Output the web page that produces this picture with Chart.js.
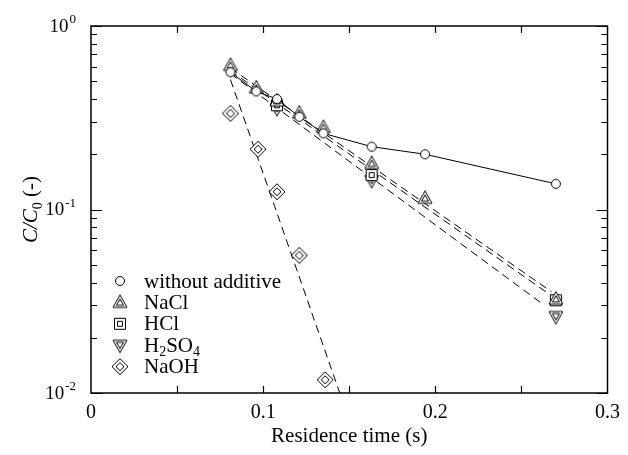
<!DOCTYPE html>
<html>
<head>
<meta charset="utf-8">
<script src="https://cdn.jsdelivr.net/npm/chart.js@4/dist/chart.umd.min.js"></script>
<style>
  html, body { margin: 0; padding: 0; background: #fff; }
  #wrap { width: 628px; height: 455px; }
</style>
</head>
<body>
<div id="wrap"><canvas id="c" width="628" height="455"></canvas></div>
<script>
// Residence times (s) and normalised concentrations C/C0
const timesAll   = [0.081, 0.096, 0.108, 0.121, 0.135, 0.163, 0.194, 0.270];
const noAdditive = [0.56, 0.44, 0.40, 0.32, 0.26, 0.22, 0.20, 0.138];

const naclTimes  = [0.081, 0.096, 0.108, 0.121, 0.135, 0.163, 0.194, 0.270];
const naclVals   = [0.61, 0.46, 0.39, 0.335, 0.28, 0.178, 0.115, 0.0325];

const hclTimes   = [0.108, 0.163, 0.270];
const hclVals    = [0.37, 0.154, 0.032];

const h2so4Times = [0.108, 0.163, 0.270];
const h2so4Vals  = [0.355, 0.144, 0.0261];

const naohTimes  = [0.081, 0.097, 0.108, 0.121, 0.136];
const naohVals   = [0.334, 0.213, 0.125, 0.0562, 0.0118];

// First-order fit lines (end points)
const naclFitT  = [0.081, 0.2675];
const naclFitC  = [0.59, 0.0356];
const hclFitT   = [0.081, 0.268];
const hclFitC   = [0.57, 0.0336];
const h2so4FitT = [0.081, 0.263];
const h2so4FitC = [0.55, 0.0302];
const naohFitT  = [0.081, 0.1445];
const naohFitC  = [0.51, 0.0100];

// Axis tick labels
const xTickLabels = ['0', '0.1', '0.2', '0.3'];
const yDecades = [1, 0.1, 0.01];
const yDecadeExp = ['0', '-1', '-2'];

const SERIF = '"Liberation Serif", "Times New Roman", serif';

function pts(xs, ys) { return xs.map((x, i) => ({ x: x, y: ys[i] })); }

// Open, double-outlined marker glyphs
function marker(kind) {
  const s = 20, c = document.createElement('canvas');
  c.width = s; c.height = s;
  const g = c.getContext('2d');
  const m = s / 2;
  g.strokeStyle = '#000';
  g.fillStyle = '#fff';
  g.lineWidth = 1;
  function poly(p) {
    g.beginPath();
    g.moveTo(p[0][0], p[0][1]);
    for (let i = 1; i < p.length; i++) g.lineTo(p[i][0], p[i][1]);
    g.closePath(); g.fill(); g.stroke();
  }
  function scaled(p, k, cx, cy) { return p.map(q => [cx + (q[0] - cx) * k, cy + (q[1] - cy) * k]); }
  if (kind === 'circle') {
    g.beginPath(); g.arc(m, m, 4.5, 0, Math.PI * 2); g.fill(); g.stroke();
  } else if (kind === 'tri') {
    const p = [[m, m - 7.5], [m - 7, m + 5], [m + 7, m + 5]];
    poly(p); poly(scaled(p, 0.5, m, m + 0.8));
  } else if (kind === 'itri') {
    const p = [[m, m + 7.5], [m - 7, m - 5], [m + 7, m - 5]];
    poly(p); poly(scaled(p, 0.5, m, m - 0.8));
  } else if (kind === 'sq') {
    const p = [[m - 5.5, m - 5.5], [m + 5.5, m - 5.5], [m + 5.5, m + 5.5], [m - 5.5, m + 5.5]];
    poly(p); poly(scaled(p, 0.45, m, m));
  } else if (kind === 'dia') {
    const p = [[m, m - 8], [m + 8, m], [m, m + 8], [m - 8, m]];
    poly(p); poly(scaled(p, 0.5, m, m));
  }
  return c;
}
const mk = { circle: marker('circle'), tri: marker('tri'), sq: marker('sq'), itri: marker('itri'), dia: marker('dia') };

function fitLine(xs, ys) {
  return { data: pts(xs, ys), showLine: true, borderColor: '#000', borderWidth: 1,
           borderDash: [8, 5], pointRadius: 0, fill: false, tension: 0, order: 5 };
}
function scatter(xs, ys, img, lineOn) {
  return { data: pts(xs, ys), showLine: !!lineOn, borderColor: '#000', borderWidth: 1,
           pointStyle: img, pointRadius: 8, backgroundColor: '#fff', fill: false, tension: 0, order: 1 };
}

// Frame, inward ticks, log-axis labels, y title and legend
const decor = {
  id: 'decor',
  afterDraw(chart) {
    const ctx = chart.ctx, a = chart.chartArea;
    const xs = chart.scales.x, ys = chart.scales.y;
    ctx.save();
    ctx.strokeStyle = '#000';
    ctx.lineWidth = 1.5;
    ctx.strokeRect(a.left, a.top, a.right - a.left, a.bottom - a.top);
    ctx.lineWidth = 1.2;
    ctx.beginPath();
    for (let v = 0.05; v < 0.3; v += 0.05) {
      const px = Math.round(xs.getPixelForValue(v)) + 0.5;
      ctx.moveTo(px, a.bottom); ctx.lineTo(px, a.bottom - 7);
      ctx.moveTo(px, a.top); ctx.lineTo(px, a.top + 7);
    }
    for (let d = 0.01; d < 1.0001; d *= 10) {
      for (let k = 1; k <= 9; k++) {
        const v = d * k;
        if (v > 1.0001) break;
        const py = Math.round(ys.getPixelForValue(v)) + 0.5;
        const L = (k === 1) ? 11 : 6;
        ctx.moveTo(a.left, py); ctx.lineTo(a.left + L, py);
        ctx.moveTo(a.right, py); ctx.lineTo(a.right - L, py);
      }
    }
    ctx.stroke();

    // y tick labels 10^n
    ctx.fillStyle = '#000';
    ctx.textBaseline = 'middle';
    yDecades.forEach((v, i) => {
      const py = ys.getPixelForValue(v);
      ctx.font = '13px ' + SERIF;
      const ew = ctx.measureText(yDecadeExp[i]).width;
      const right = a.left - 15;
      ctx.textAlign = 'right';
      ctx.fillText(yDecadeExp[i], right, py - 6);
      ctx.font = '19px ' + SERIF;
      ctx.fillText('10', right - ew - 1, py + 1);
    });

    // y title: C/C0 (-)
    ctx.translate(30, (a.top + a.bottom) / 2);
    ctx.rotate(-Math.PI / 2);
    ctx.textBaseline = 'alphabetic';
    ctx.textAlign = 'left';
    const parts = [
      { t: 'C/C', f: 'italic 21px ' + SERIF, dy: 0 },
      { t: '0', f: '14px ' + SERIF, dy: 5 },
      { t: ' (-)', f: '21px ' + SERIF, dy: 0 }
    ];
    let tw = 0;
    parts.forEach(p => { ctx.font = p.f; p.w = ctx.measureText(p.t).width; tw += p.w; });
    let cx = -tw / 2;
    parts.forEach(p => { ctx.font = p.f; ctx.fillText(p.t, cx, 7 + p.dy); cx += p.w; });
    ctx.setTransform(1, 0, 0, 1, 0, 0);

    // legend
    const rows = [
      { img: mk.circle, parts: [['without additive', 0]] },
      { img: mk.tri, parts: [['NaCl', 0]] },
      { img: mk.sq, parts: [['HCl', 0]] },
      { img: mk.itri, parts: [['H', 0], ['2', 1], ['SO', 0], ['4', 1]] },
      { img: mk.dia, parts: [['NaOH', 0]] }
    ];
    const lx = 120, tx = 144, ly0 = 281, dy = 21.4;
    rows.forEach((r, i) => {
      const y = ly0 + i * dy;
      ctx.drawImage(r.img, lx - r.img.width / 2, y - r.img.height / 2);
      let x = tx;
      ctx.textBaseline = 'middle';
      ctx.textAlign = 'left';
      r.parts.forEach(p => {
        ctx.font = (p[1] ? '14px ' : '21px ') + SERIF;
        ctx.fillText(p[0], x, y + 1 + (p[1] ? 6 : 0));
        x += ctx.measureText(p[0]).width;
      });
    });
    ctx.restore();
  }
};

new Chart(document.getElementById('c'), {
  type: 'scatter',
  data: {
    datasets: [
      fitLine(naclFitT, naclFitC),
      fitLine(hclFitT, hclFitC),
      fitLine(h2so4FitT, h2so4FitC),
      fitLine(naohFitT, naohFitC),
      scatter(timesAll, noAdditive, mk.circle, true),
      scatter(naclTimes, naclVals, mk.tri),
      scatter(hclTimes, hclVals, mk.sq),
      scatter(h2so4Times, h2so4Vals, mk.itri),
      scatter(naohTimes, naohVals, mk.dia)
    ]
  },
  options: {
    responsive: false,
    animation: false,
    devicePixelRatio: 1,
    events: [],
    layout: { padding: { left: 91, right: 11, top: 26, bottom: 0 } },
    plugins: { legend: { display: false }, tooltip: { enabled: false } },
    scales: {
      x: {
        type: 'linear', min: 0, max: 0.3,
        grid: { display: false, drawTicks: false },
        border: { display: false },
        ticks: {
          stepSize: 0.1, autoSkip: false, maxRotation: 0, padding: 8,
          color: '#000', font: { family: SERIF, size: 20 },
          callback: (v) => {
            const i = Math.round(v * 10);
            return Math.abs(v * 10 - i) < 1e-6 ? xTickLabels[i] : '';
          }
        },
        title: { display: true, text: 'Residence time (s)', color: '#000',
                 font: { family: SERIF, size: 21 }, padding: { top: 8, bottom: 6 } },
        afterFit: (s) => { s.height = 62; }
      },
      y: {
        type: 'logarithmic', min: 0.01, max: 1, display: false
      }
    }
  },
  plugins: [decor]
});
</script>
</body>
</html>
